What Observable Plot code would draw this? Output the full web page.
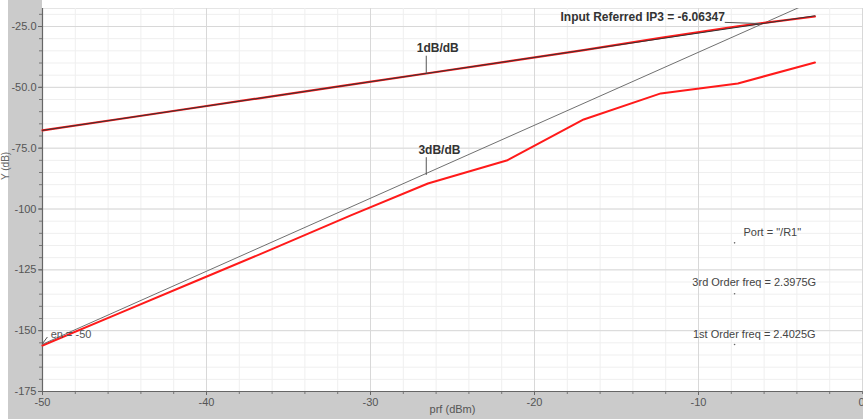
<!DOCTYPE html>
<html>
<head>
<meta charset="utf-8">
<script src="https://cdn.jsdelivr.net/npm/d3@7"></script>
<script src="https://cdn.jsdelivr.net/npm/@observablehq/plot@0.6"></script>
<style>
  html, body { margin: 0; padding: 0; background: #fff; }
  #chart svg { display: block; }
</style>
</head>
<body>
<div id="chart"></div>
<script>
// ---- data ----
const prf = [-50, -45.3, -40.6, -35.9, -31.2, -26.5, -21.7, -17.0, -12.3, -7.6, -2.9];
const firstOrder = [-67.7, -63.0, -58.3, -53.6, -48.9, -44.2, -39.4, -34.7, -29.7, -24.9, -20.9];
const thirdOrder = [-156.1, -142.8, -129.5, -116.2, -102.6, -89.5, -80.1, -63.2, -52.5, -48.4, -39.8];

// extrapolated lines (1 dB/dB and 3 dB/dB), end points
const line1X = [-50, -2.9];
const line1Y = [-67.7, -20.6];
const line3X = [-50, -2.9];
const line3Y = [-155.57, -14.27];
const ip3 = -6.06347;

// axis ticks
const xTicks = [-50, -40, -30, -20, -10];
const xTickLabels = ["-50", "-40", "-30", "-20", "-10"];
const xEndTick = [0];
const xEndLabel = ["0"];
const yTicks = [-175, -150, -125, -100, -75, -50, -25];
const yTickLabels = ["-175", "-150", "-125", "-100", "-75.0", "-50.0", "-25.0"];

// annotations (data coordinates)
const boldNotes = ["1dB/dB", "3dB/dB", "Input Referred IP3 = -6.06347"];
const boldX = [-25.9, -25.8, -13.4];
const boldY = [-34.0, -75.8, -21.3];
const leaderX1 = [-26.6, -26.6, -8.4, -49.7];
const leaderY1 = [-37.0, -78.7, -23.3, -152.6];
const leaderX2 = [-26.6, -26.6, -6.2, -50];
const leaderY2 = [-44.3, -86.0, -23.8, -155.3];

const infoNotes = ["Port = \"/R1\"", "3rd Order freq = 2.3975G", "1st Order freq = 2.4025G"];
const infoX = [-5.5, -6.6, -6.6];
const infoY = [-109.8, -130.3, -151.6];
const markerX = [-7.8, -7.8, -7.8];
const markerY = [-113.9, -134.8, -155.7];

const xLabel = "prf (dBm)";
const yLabel = "Y (dB)";

// ---- build tables ----
const series1 = prf.map((x, i) => ({x, y: firstOrder[i]}));
const series3 = prf.map((x, i) => ({x, y: thirdOrder[i]}));
const l1 = line1X.map((x, i) => ({x, y: line1Y[i]}));
const l3 = line3X.map((x, i) => ({x, y: line3Y[i]}));
const bold = boldNotes.map((t, i) => ({t, x: boldX[i], y: boldY[i]}));
const leaders = leaderX1.map((x1, i) => ({x1, y1: leaderY1[i], x2: leaderX2[i], y2: leaderY2[i]}));
const info = infoNotes.map((t, i) => ({t, x: infoX[i], y: infoY[i]}));
const markers = markerX.map((x, i) => ({x, y: markerY[i]}));

const xMinor = d3.range(-50, 0.01, 2);
const yMinor = d3.range(-175, -17, 5);
const xMajor = xTicks.concat(xEndTick);
const yMajor = yTicks;

const font = "'Liberation Sans', Arial, sans-serif";

const chart = Plot.plot({
  width: 863,
  height: 419,
  marginLeft: 42,
  marginRight: 1,
  marginTop: 8,
  marginBottom: 28,
  style: {fontFamily: font, fontSize: "11px", color: "#555", overflow: "visible"},
  x: {domain: [-50, 0]},
  y: {domain: [-175, -17.6]},
  marks: [
    Plot.frame({fill: "white", stroke: "none"}),
    // minor grid
    Plot.ruleX(xMinor, {stroke: "#efefef", strokeWidth: 1}),
    Plot.ruleY(yMinor, {stroke: "#efefef", strokeWidth: 1}),
    // major grid
    Plot.ruleX(xMajor, {stroke: "#d8d8d8", strokeWidth: 1}),
    Plot.ruleY(yMajor, {stroke: "#d8d8d8", strokeWidth: 1}),
    // axes
    Plot.axisY(yMinor, {tickSize: 3, tickFormat: () => "", stroke: "#777"}),
    Plot.axisY(yTicks, {tickSize: 4, tickPadding: 2, tickFormat: (d) => yTickLabels[yTicks.indexOf(d)], fill: "#555", stroke: "#666", label: null}),
    Plot.axisX(xMinor, {tickSize: 3, tickFormat: () => "", stroke: "#777"}),
    Plot.axisX(xTicks, {tickSize: 4, tickPadding: 3, tickFormat: (d) => xTickLabels[xTicks.indexOf(d)], fill: "#555", stroke: "#666", label: null}),
    Plot.axisX(xEndTick, {tickSize: 4, tickPadding: 3, tickFormat: (d) => xEndLabel[xEndTick.indexOf(d)], textAnchor: "end", dx: 2, fill: "#555", stroke: "#666", label: null}),
    Plot.ruleX([-50], {stroke: "#666", strokeWidth: 1.2}),
    Plot.ruleY([-175], {stroke: "#666", strokeWidth: 1.2}),
    // data
    Plot.line(series3, {x: "x", y: "y", stroke: "#ff1a1a", strokeWidth: 2}),
    Plot.line(l3, {x: "x", y: "y", stroke: "#707070", strokeWidth: 1, clip: true}),
    Plot.line(series1, {x: "x", y: "y", stroke: "#ff1a1a", strokeWidth: 2.2}),
    Plot.line(l1, {x: "x", y: "y", stroke: "#333", strokeWidth: 1}),
    // annotations
    Plot.link(leaders, {x1: "x1", y1: "y1", x2: "x2", y2: "y2", stroke: "#555", strokeWidth: 1}),
    Plot.text(bold, {x: "x", y: "y", text: "t", fontWeight: "bold", fontSize: 12, fill: "#333", fontFamily: font}),
    Plot.text(["en = -50"], {x: [-49.5], y: [-151.7], text: (d) => d, textAnchor: "start", fontSize: 11, fill: "#555", fontFamily: font}),
    Plot.text(info, {x: "x", y: "y", text: "t", fontSize: 11, fill: "#444", fontFamily: font}),
    Plot.dot(markers, {x: "x", y: "y", r: 0.8, fill: "#666", stroke: "none"}),
    // axis titles
    Plot.text([xLabel], {frameAnchor: "bottom", dy: 21, text: (d) => d, fontSize: 11, fill: "#555", fontFamily: font}),
    Plot.text([yLabel], {frameAnchor: "left", dx: -37, dy: -20, rotate: -90, text: (d) => d, fontSize: 10, fill: "#666", fontFamily: font})
  ]
});

chart.style.background =
  "linear-gradient(#fff,#fff) 0 0 / 8px 100% no-repeat," +
  "linear-gradient(#fff,#fff) 42px 0 / calc(100% - 42px) 8px no-repeat," +
  "#cbcbcb";
document.getElementById("chart").appendChild(chart);
</script>
</body>
</html>
